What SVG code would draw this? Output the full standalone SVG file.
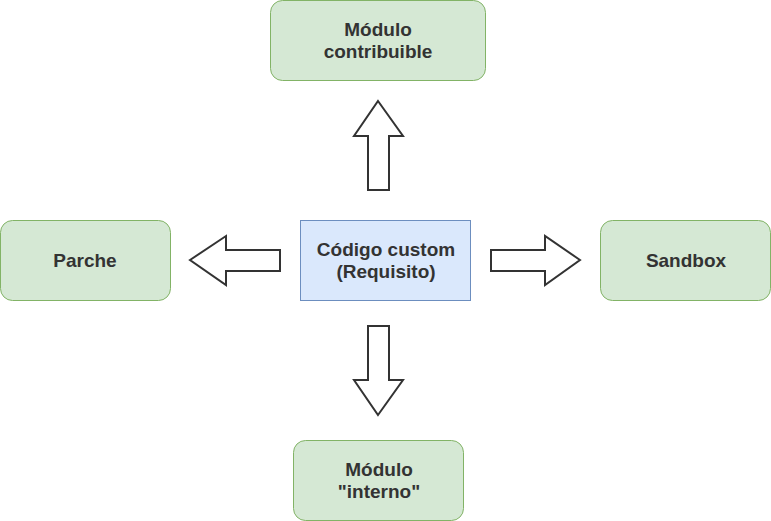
<svg xmlns="http://www.w3.org/2000/svg" width="771" height="521" viewBox="0 0 771 521">
<style>
.g{fill:#d5e8d4;stroke:#82b366;stroke-width:1}
.b{fill:#dae8fc;stroke:#6c8ebf;stroke-width:1}
.a{fill:#fff;stroke:#333;stroke-width:2}
text{font-family:"Liberation Sans",Arial,sans-serif;font-weight:bold;font-size:19px;fill:#333;text-anchor:middle}
</style>
<rect width="771" height="521" fill="#fff"/>
<g id="connectors">
<path class="a" d="M378 101 L403 136 L389 136 L389 190 L368 190 L368 136 L354 136 Z"/>
<path class="a" d="M190 260 L226 236 L226 250 L280 250 L280 271 L226 271 L226 285 Z"/>
<path class="a" d="M580 260 L545 236 L545 250 L491 250 L491 271 L545 271 L545 285 Z"/>
<path class="a" d="M378 415 L403 380 L389 380 L389 326 L368 326 L368 380 L354 380 Z"/>
</g>
<g id="top"><rect class="g" x="270.5" y="0.5" width="215" height="80" rx="12"/><text x="378" y="36">Módulo</text><text x="378" y="58">contribuible</text></g>
<g id="center"><rect class="b" x="300.5" y="220.5" width="170" height="80"/><text x="386" y="256">Código custom</text><text x="386" y="278">(Requisito)</text></g>
<g id="left"><rect class="g" x="0.5" y="220.5" width="170" height="80" rx="12"/><text x="85" y="267">Parche</text></g>
<g id="right"><rect class="g" x="600.5" y="220.5" width="170" height="80" rx="12"/><text x="686" y="267">Sandbox</text></g>
<g id="bottom"><rect class="g" x="293.5" y="440.5" width="170" height="80" rx="12"/><text x="379" y="476">Módulo</text><text x="379" y="498">"interno"</text></g>
</svg>
